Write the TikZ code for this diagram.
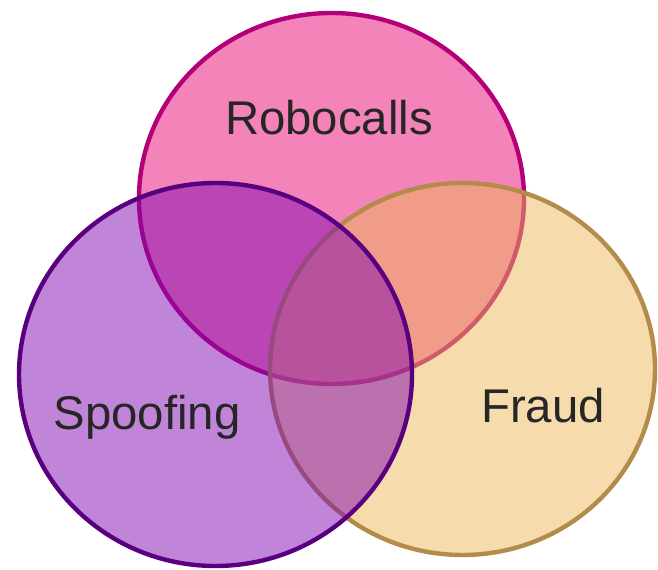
\documentclass[tikz,border=0pt]{standalone}
\usepackage{fontspec}
\setmainfont{Liberation Sans}
\usepackage{tikz}
\definecolor{robofill}{RGB}{231,7,113}
\definecolor{roboline}{RGB}{180,0,120}
\definecolor{spooffill}{RGB}{129,9,177}
\definecolor{spoofline}{RGB}{88,0,128}
\definecolor{fraudfill}{RGB}{237,183,91}
\definecolor{fraudline}{RGB}{179,139,74}
\definecolor{labeltext}{RGB}{38,38,38}
\tikzset{set/.style = {line width = 3.3pt, fill opacity = 0.5, draw opacity = 1}}
\tikzset{setname/.style = {anchor = base, text = labeltext, font = \fontsize{35.5}{42}\selectfont, inner sep = 0}}

\begin{document}
\begin{tikzpicture}[x = 0.75pt, y = -0.75pt]
      \useasboundingbox (0, 0) rectangle (658, 570);
      % three sets, robocalls at the bottom of the stack
      \draw [set, draw = roboline, fill = robofill] (331.5, 198.5) ellipse [x radius = 192.5, y radius = 185.5];
      \draw [set, draw = fraudline, fill = fraudfill] (462.5, 369) ellipse [x radius = 192.5, y radius = 186];
      \draw [set, draw = spoofline, fill = spooffill] (215.5, 374.5) ellipse [x radius = 196.5, y radius = 191.5];
      \node [setname] (robocalls) at (329, 135) {Robocalls};
      \node [setname] (spoofing) at (147, 430) {Spoofing};
      \node [setname] (fraud) at (543, 423) {Fraud};
    \end{tikzpicture}
\end{document}
